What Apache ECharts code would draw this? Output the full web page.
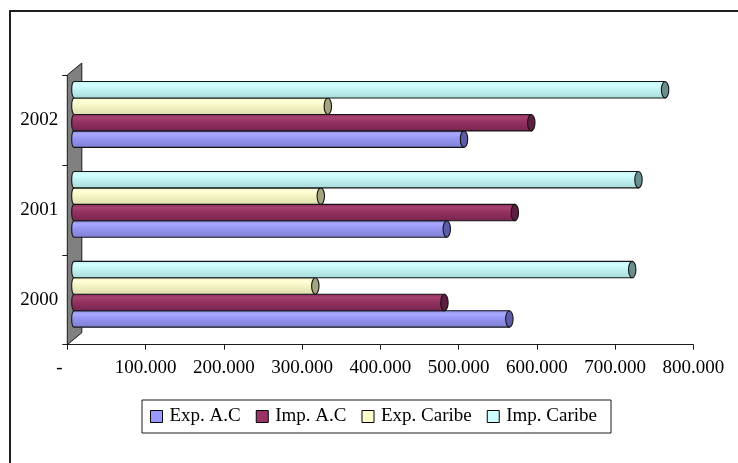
<!DOCTYPE html>
<html>
<head>
<meta charset="utf-8">
<script src="https://cdn.jsdelivr.net/npm/echarts@6/dist/echarts.min.js"></script>
<style>
  html, body { margin: 0; padding: 0; background: #fff; }
  #chart { width: 738px; height: 463px; }
</style>
</head>
<body>
<div id="chart"></div>
<script>
// Years on the category axis (bottom to top)
const years = ['2000', '2001', '2002'];

// Trade values per year
const expAC     = [556000, 476000, 498000];
const impAC     = [473000, 563000, 584000];
const expCaribe = [308000, 315000, 324000];
const impCaribe = [713000, 721000, 755000];

const seriesNames = ['Exp. A.C', 'Imp. A.C', 'Exp. Caribe', 'Imp. Caribe'];

// Value axis tick labels
const valueTicks = ['-', '100.000', '200.000', '300.000', '400.000', '500.000', '600.000', '700.000', '800.000'];

const FONT = 'Liberation Serif';

// Oblique depth of the 3D box (wall) and the position of the bars inside it
const DEPTH_X = 14.5, DEPTH_Y = -12;
const BAR_DX = 7, BAR_DY = -5.5;
const BAR_FRAC = 0.183;

const palette = [
  { base: '#9999FF', cap: '#5c5ca8',
    stops: ['#8c8ce8', '#a9a9ff', '#9696f4', '#7e7ed2'] },
  { base: '#993366', cap: '#5e1e40',
    stops: ['#8a2c5c', '#a5426f', '#943262', '#78244e'] },
  { base: '#FFFFCC', cap: '#a4a47e',
    stops: ['#f2f2c2', '#ffffda', '#f6f6c6', '#dcdcae'] },
  { base: '#CCFFFF', cap: '#6a8e8e',
    stops: ['#bff2f2', '#d4ffff', '#c4f4f4', '#a8dada'] }
];

function cylinderRenderer(seriesIdx) {
  const pal = palette[seriesIdx];
  return function (params, api) {
    const val = api.value(0);
    const cat = api.value(1);
    const p0 = api.coord([0, cat]);
    const p1 = api.coord([val, cat]);
    const band = api.size([0, 1])[1];
    const h = band * BAR_FRAC;
    const yc = p0[1] + BAR_DY + (1.5 - seriesIdx) * h;
    const x0 = p0[0] + BAR_DX;
    const x1 = p1[0] + BAR_DX;
    const yt = yc - h / 2, yb = yc + h / 2;
    const rl = 2.6, rr = 3.7;
    const fill = {
      type: 'linear', x: 0, y: 0, x2: 0, y2: 1,
      colorStops: [
        { offset: 0, color: pal.stops[0] },
        { offset: 0.22, color: pal.stops[1] },
        { offset: 0.45, color: pal.stops[2] },
        { offset: 1, color: pal.stops[3] }
      ]
    };
    return {
      type: 'group',
      children: [
        {
          type: 'path',
          shape: {
            pathData: 'M' + x0 + ',' + yt + ' L' + x1 + ',' + yt + ' L' + x1 + ',' + yb +
              ' L' + x0 + ',' + yb + ' A' + rl + ',' + (h / 2) + ' 0 0 1 ' + x0 + ',' + yt + ' Z'
          },
          style: { fill: fill, stroke: '#141414', lineWidth: 1.1 }
        },
        {
          type: 'ellipse',
          shape: { cx: x1, cy: yc, rx: rr, ry: h / 2 },
          style: { fill: pal.cap, stroke: '#141414', lineWidth: 1.1 }
        }
      ]
    };
  };
}

// Gray side wall at the zero end of the value axis
function wallRenderer(params, api) {
  const band = api.size([0, 1])[1];
  const x0 = api.coord([0, 0])[0];
  const yb = api.coord([0, 0])[1] + band / 2;
  const yt = api.coord([0, years.length - 1])[1] - band / 2;
  return {
    type: 'polygon',
    shape: {
      points: [[x0, yb], [x0 + DEPTH_X, yb + DEPTH_Y], [x0 + DEPTH_X, yt + DEPTH_Y], [x0, yt]]
    },
    style: { fill: '#808080', stroke: '#1a1a1a', lineWidth: 1 }
  };
}

const valuesBySeries = [expAC, impAC, expCaribe, impCaribe];

const series = [{
  type: 'custom',
  name: 'wall',
  silent: true,
  z: 1,
  encode: { x: 0, y: 1 },
  renderItem: wallRenderer,
  data: [[0, 0]]
}];

valuesBySeries.forEach(function (vals, i) {
  series.push({
    type: 'custom',
    name: seriesNames[i],
    z: 2 + i,
    itemStyle: { color: palette[i].base },
    encode: { x: 0, y: 1 },
    renderItem: cylinderRenderer(i),
    data: vals.map(function (v, k) { return [v, k]; })
  });
});

const chart = echarts.init(document.getElementById('chart'), null, { renderer: 'canvas' });

chart.setOption({
  animation: false,
  backgroundColor: '#ffffff',
  grid: { left: 67.3, right: 44.7, top: 75, bottom: 118.3 },
  xAxis: {
    type: 'value',
    min: 0,
    max: 800000,
    interval: 100000,
    splitLine: { show: false },
    axisLine: { show: true, lineStyle: { color: '#1a1a1a', width: 1 } },
    axisTick: { show: true, length: 5, lineStyle: { color: '#1a1a1a' } },
    axisLabel: {
      margin: 14,
      color: '#000',
      fontFamily: FONT,
      fontSize: 19,
      formatter: function (value, index) {
        const label = valueTicks[index];
        return index === 0 ? '{dash|' + label + '}' : label;
      },
      rich: {
        dash: { fontFamily: FONT, fontSize: 19, color: '#000', padding: [0, 16, 0, 0] }
      }
    }
  },
  yAxis: {
    type: 'category',
    data: years,
    axisLine: { show: false },
    axisTick: { show: true, length: 5, lineStyle: { color: '#1a1a1a' } },
    axisLabel: { margin: 9, color: '#000', fontFamily: FONT, fontSize: 19, padding: [5, 0, 0, 0] },
    splitLine: { show: false }
  },
  legend: {
    data: seriesNames,
    left: 142,
    top: 400,
    orient: 'horizontal',
    padding: [7, 14, 7, 8],
    itemWidth: 12,
    itemHeight: 12,
    itemGap: 15,
    icon: 'rect',
    borderColor: '#1a1a1a',
    borderWidth: 1,
    itemStyle: { borderColor: '#000', borderWidth: 1 },
    textStyle: { color: '#000', fontFamily: FONT, fontSize: 19, padding: [0, 0, 0, 2] }
  },
  graphic: [{
    type: 'rect',
    silent: true,
    shape: { x: 10, y: 11, width: 800, height: 500 },
    style: { fill: null, stroke: '#1e1e1e', lineWidth: 2 }
  }],
  series: series
});
</script>
</body>
</html>
